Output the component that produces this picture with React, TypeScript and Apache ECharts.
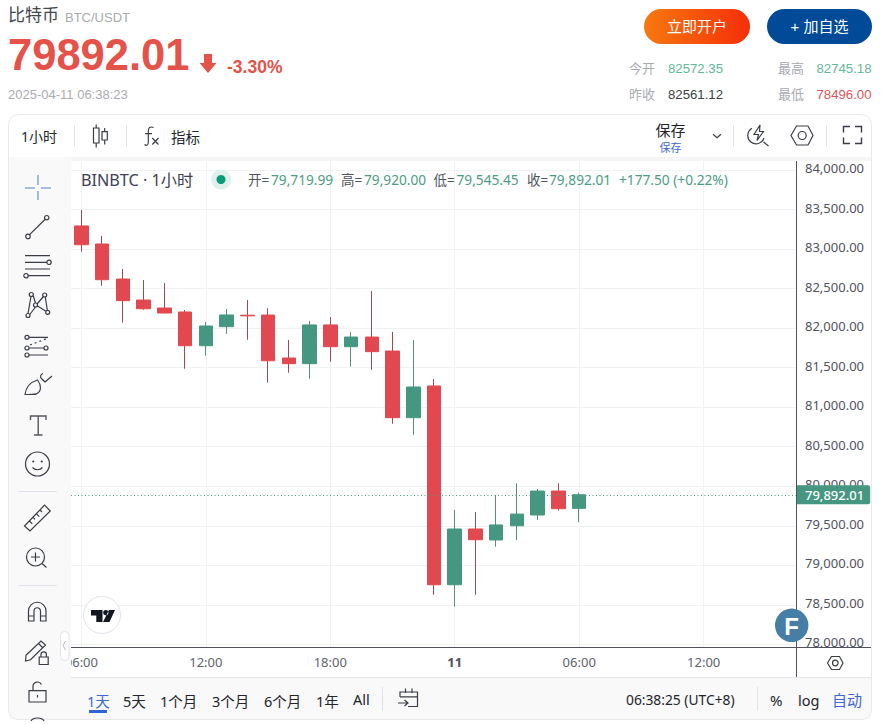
import React, { useEffect, useRef } from "react";
import * as echarts from "echarts";

const categories = [
  "06:00","07:00","08:00","09:00","10:00","11:00","12:00","13:00","14:00","15:00","16:00","17:00",
  "18:00","19:00","20:00","21:00","22:00","23:00","11","01:00","02:00","03:00","04:00","05:00",
  "06:00","07:00","08:00","09:00","10:00","11:00","12:00","13:00","14:00","15:00","16:00",
];
const opens = [83292,83064,82621,82355,82254,82204,81777,82018,82163,82165,81622,81550,82040,81765,81887,81710,80867,81268,78754,79459,79320,79500,79636,79939,79719.99];
const closes = [83055,82612,82347,82245,82191,81777,82027,82166,82155,81587,81550,82040,81765,81887,81702,80867,81255,78754,79459,79323,79510,79648,79939,79716,79892.01];
const lows = [82966,82536,82068,82233,82191,81486,81651,81929,81853,81310,81436,81360,81575,81512,81474,80790,80652,78627,78476,78627,79235,79319,79572,79692,79545.45];
const highs = [83494,83165,82748,82608,82570,82229,82077,82242,82355,82250,81850,82090,82140,81950,82470,81950,81850,81356,79700,79674,79889,80037,79965,80037,79920];
const priceTicks = [78000,78500,79000,79500,80000,80500,81000,81500,82000,82500,83000,83500,84000];
const lastPrice = 79892.01;
const rangeTabs = ["1天","5天","1个月","3个月","6个月","1年","All"];

const UP = "#459782";
const DOWN = "#e2484f";
const UP_WICK = "#5c8d7b";
const DOWN_WICK = "#9a4b57";
const GRIDC = "#f1f2f4";
const AXISC = "#50535e";
const SEP = "#e0e3eb";
const ICON = "#3a3d47";
const BLUE = "#3f66d6";
const CJK = '"Liberation Sans","Noto Sans CJK SC",sans-serif';
const UI = '"Noto Sans","Noto Sans CJK SC",sans-serif';

const c = (x: number, y: number, r: number) =>
  `M${x - r} ${y}a${r} ${r} 0 1 0 ${2 * r} 0a${r} ${r} 0 1 0 ${-2 * r} 0Z`;

const icons: Record<string, string> = {
  cross: "M25 188H35M41 188H51M38 175V185M38 191V200",
  trend: `M29.6 234.6L45.2 219.2${c(28, 236.4, 2.2)}${c(46.7, 217.7, 2.2)}`,
  lines: `M25 255.7H50M25 262.3H46.7${c(49, 262.3, 2.2)}M25 269H50M28.3 275.7H50${c(26, 275.7, 2.2)}`,
  fan: `M28 313.5L31 296.5M33 295L35.5 303M35.5 307L29.8 314.5M37 304L43.5 296.5M45.3 297L47.3 310M37.5 306L45.5 311${c(28, 315.5, 2)}${c(31.3, 294.5, 2)}${c(44.7, 295, 2)}${c(47.7, 312.3, 2)}${c(35.5, 305, 2)}`,
  fib: `M29 337.3H48${c(27, 337.3, 2)}M29.2 348H44${c(27, 348, 2)}${c(46, 348, 2)}M29.2 355H48${c(27, 355, 2)}`,
  fibDot: "M30 345L47 338.5",
  brush: "M25 394.5C26 386 31 382 37.5 380C41.5 385 41.5 391 37 393.5C33 394.5 29 394.5 25 394.5ZM24.5 394.5H36.5M45 382L52 376M45 382L42 379C39.5 377.5 40.5 374 43 373.5",
  textT: "M30.5 420V416H46V420M38.2 416V435M34 435H42.5",
  smile: `${c(37.5, 464, 12)}${c(33.3, 461.5, 0.5)}${c(41.7, 461.5, 0.5)}M32.5 467.5C35 470.5 40 470.5 42.5 467.5`,
  ruler: "M24.5 526L44.5 505.2L50.3 511L30 531ZM29.5 521L32.3 523.8M33 517.3L35 519.3M36.5 513.8L39.3 516.6M40 510L42 512",
  zoomIn: `${c(35.5, 557, 9)}M31 557H40M35.5 552.5V561.5M42.2 563.7L46.5 567.5`,
  magnet: "M28.5 621V611A8.75 8.75 0 0 1 46 611V621H40.5V611A3.2 3.2 0 0 0 34 611V621ZM28.5 616H34M40.5 616H46",
  pencil: `M26 655.3L41 641L45.5 645L30.5 659.8L25.5 661ZM38.5 643.5L43 648M39.2 657H48.2V664.5H39.2ZM41 657V654.5A2.7 2.7 0 0 1 46.4 654.5V657`,
  unlock: `M29 690.7H46V702H29ZM33 690.7V686.5A4.5 4.5 0 0 1 41.5 684.5M37.5 695V697.5`,
  partial: "M31 721C33 717 42 717 44 721",
  candle: "M93.5 128H99V143H93.5ZM96.2 124.5V128M96.2 143V147.5M102 131.7H107.3V140H102ZM104.7 128V131.7M104.7 140V144.5",
  fx: "M153.5 127.5C149.5 126 148.3 128 148.3 131.5V141.5C148.3 145.5 146.5 146 144.5 144.5M145 133.7H152M152.3 138L158.5 144.5M158.5 138L152.3 144.5",
  chevron: "M713 134.3L717 137.8L721 134.3",
  bolt: `M752 128.3A8.3 8.3 0 1 0 764 138M760 125L754 134.5H758.5L757 140.5L763.5 131.5H759.5ZM763.5 142L768.5 146`,
  hex: `M791 135.5L796.5 126H808L813 135.5L808 145H796.5Z${c(802.2, 135.5, 4)}`,
  expand: "M843.5 132.5V126.5H850M855 126.5H861.5V132.5M861.5 137.5V143.5H855M850 143.5H843.5V137.5",
  hexAxis: `M827.5 663L831.5 656.5H839.5L843 663L839.5 669.5H831.5Z${c(835.3, 663, 2.8)}`,
  collapse: "M65.5 641L63 645.5L65.5 650",
  calendar: "M400 697V692H417.5V706.5H408M400 696.8H417.5M405.5 688.5V693M412 688.5V693M398 703H407.5M404.5 700L408 703L404.5 706",
  tvLogo: `M91 610H102.5V622H96.3V615.5H91Z${c(105.8, 612.6, 2.6)}M109 610H115L109.5 622H103Z`,
};
Object.entries(icons).forEach(([name, d]) => {
  echarts.graphic.registerShape("ic_" + name, echarts.graphic.extendPath(d, {}));
});

const Z = 50;
const txt = (text: string, x: number, y: number, size: number, fill: string, extra: any = {}) => ({
  type: "text",
  z: Z,
  silent: true,
  style: {
    text, x, y, fill,
    fontSize: size,
    fontFamily: extra.family || UI,
    fontWeight: extra.weight || "normal",
    textAlign: extra.align || "left",
    textVerticalAlign: "middle",
  },
});
const icon = (name: string, stroke = ICON, lw = 1.2, fill = "none", extra: any = {}) => ({
  type: "ic_" + name,
  z: Z,
  silent: true,
  style: { stroke, fill, lineWidth: lw, ...extra },
});
const rect = (x: number, y: number, width: number, height: number, fill: any, r: any = 0, extra: any = {}) => ({
  type: "rect",
  z: Z,
  silent: true,
  shape: { x, y, width, height, r },
  style: { fill, ...extra },
});
const seg = (x1: number, y1: number, x2: number, y2: number, stroke: string, lineWidth = 1) => ({
  type: "line",
  z: Z,
  silent: true,
  shape: { x1, y1, x2, y2 },
  style: { stroke, lineWidth },
});

function buildGraphics(): any[] {
  const g: any[] = [];
  const RED = "#e5524a";
  const GREY = "#a9abb1";
  // header
  g.push(txt("比特币", 8, 15.5, 17, "#43464d", { family: CJK }));
  g.push(txt("BTC/USDT", 65, 17, 13, GREY, { family: CJK }));
  g.push(txt("79892.01", 8, 55, 43.5, RED, { family: CJK, weight: "bold" }));
  g.push({
    type: "polygon", z: Z, silent: true,
    shape: { points: [[204, 54], [212, 54], [212, 63], [216.5, 63], [208, 73], [199.5, 63], [204, 63]] },
    style: { fill: RED },
  });
  g.push(txt("-3.30%", 227, 66.5, 17.5, RED, { family: CJK, weight: "bold" }));
  g.push(txt("2025-04-11 06:38:23", 8, 94, 13, GREY, { family: CJK }));
  g.push(rect(644, 9, 106, 35, new echarts.graphic.LinearGradient(0, 0, 1, 0, [
    { offset: 0, color: "#f7790f" }, { offset: 1, color: "#f52e08" },
  ]), 17.5));
  g.push(txt("立即开户", 697, 26.5, 15, "#fff", { family: CJK, align: "center" }));
  g.push(rect(767, 9, 105, 35, "#004a98", 17.5));
  g.push(txt("+ 加自选", 819.5, 26.5, 15, "#fff", { family: CJK, align: "center" }));
  g.push(txt("今开", 629, 68, 13, GREY, { family: CJK }));
  g.push(txt("82572.35", 668, 68, 13.2, "#62b897", { family: CJK }));
  g.push(txt("最高", 778, 68, 13, GREY, { family: CJK }));
  g.push(txt("82745.18", 816.5, 68, 13.2, "#62b897", { family: CJK }));
  g.push(txt("昨收", 629, 94, 13, GREY, { family: CJK }));
  g.push(txt("82561.12", 668, 94, 13.2, "#3c3f46", { family: CJK }));
  g.push(txt("最低", 778, 94, 13, GREY, { family: CJK }));
  g.push(txt("78496.00", 816.5, 94, 13.2, "#d9575a", { family: CJK }));

  // panels around the plot
  g.push(rect(9, 157, 862, 4, "#f6f6f7"));
  g.push(rect(9, 157, 62, 521, "#f9f9fa"));
  g.push(rect(9, 678, 862, 41, "#f9f9fa"));
  g.push(rect(797.5, 648, 73.5, 29, "#ffffff"));
  g.push(seg(71, 677.5, 871, 677.5, "#e6e7ea"));
  g.push({
    type: "rect", z: Z, silent: true,
    shape: { x: 8.5, y: 114.5, width: 863, height: 605, r: 10 },
    style: { fill: "none", stroke: "#e8e9ec", lineWidth: 1 },
  });
  g.push(seg(71, 647.5, 871, 647.5, AXISC));
  g.push(seg(796.5, 161, 796.5, 677, AXISC));

  // top toolbar
  g.push(txt("1小时", 21, 136.5, 14, "#23252b"));
  g.push(seg(74.5, 125, 74.5, 147, SEP));
  g.push(icon("candle"));
  g.push(seg(126.5, 125, 126.5, 147, SEP));
  g.push(icon("fx"));
  g.push(txt("指标", 171, 136.5, 14.5, "#23252b"));
  g.push(txt("保存", 670.5, 130, 15, "#23252b", { align: "center" }));
  g.push(txt("保存", 670.5, 147, 11, BLUE, { align: "center" }));
  g.push(icon("chevron"));
  g.push(seg(733.5, 125, 733.5, 147, SEP));
  g.push(icon("bolt"));
  g.push(icon("hex"));
  g.push(seg(826.5, 125, 826.5, 147, SEP));
  g.push(icon("expand", ICON, 1.4));

  // left toolbar
  g.push(icon("cross", "#8ea9dd", 1.6));
  g.push(icon("trend"));
  g.push(icon("lines"));
  g.push(icon("fan"));
  g.push(icon("fib"));
  g.push(icon("fibDot", ICON, 1.2, "none", { lineDash: [2, 3] }));
  g.push(icon("brush"));
  g.push(icon("textT", "#55585f", 1.4));
  g.push(icon("smile"));
  g.push(seg(18, 491.5, 57, 491.5, SEP));
  g.push(icon("ruler"));
  g.push(icon("zoomIn"));
  g.push(seg(18, 585.5, 57, 585.5, SEP));
  g.push(icon("magnet"));
  g.push(icon("pencil"));
  g.push(icon("unlock"));
  g.push(icon("partial"));
  g.push({
    type: "rect", z: Z, silent: true,
    shape: { x: 60.5, y: 631.5, width: 8.5, height: 29, r: 4 },
    style: { fill: "#fff", stroke: SEP, lineWidth: 1 },
  });
  g.push(icon("collapse", "#b8bac0", 1));

  // legend line
  g.push(txt("BINBTC · 1小时", 81, 179.5, 16.2, "#3d4254"));
  g.push({ type: "circle", z: Z, silent: true, shape: { cx: 221, cy: 179.5, r: 10 }, style: { fill: "#e0f1ed" } });
  g.push({ type: "circle", z: Z, silent: true, shape: { cx: 221, cy: 179.5, r: 4.5 }, style: { fill: "#0c9b78" } });
  const LV = "#4c9c83";
  const LK = "#50535e";
  [["开=", 248], ["高=", 341], ["低=", 433.5], ["收=", 527]].forEach(([t, x]) =>
    g.push(txt(t as string, x as number, 179.5, 13.5, LK)));
  [["79,719.99", 271], ["79,920.00", 364], ["79,545.45", 456.5], ["79,892.01", 549], ["+177.50 (+0.22%)", 619]].forEach(([t, x]) =>
    g.push(txt(t as string, x as number, 179.5, 13.7, LV)));

  // watermarks
  g.push({ type: "circle", z: Z, silent: true, shape: { cx: 102, cy: 615, r: 18.5 }, style: { fill: "#fff", stroke: "#e0e3eb", lineWidth: 1 } });
  g.push(icon("tvLogo", "none", 0, "#131722"));
  g.push({ type: "circle", z: Z, silent: true, shape: { cx: 791.7, cy: 625.3, r: 16.7 }, style: { fill: "#467ea6" } });
  g.push(txt("F", 791.7, 626, 24, "#fff", { family: CJK, weight: "bold", align: "center" }));
  g.push(icon("hexAxis"));

  // bottom bar
  const tabX = [87, 123, 160, 212, 264, 316, 353];
  rangeTabs.forEach((t, i) =>
    g.push(txt(t, tabX[i], i === 6 ? 699 : 700.5, 14.5, i === 0 ? BLUE : "#23252b")));
  g.push(rect(89, 710, 18, 3, "#2f63d8"));
  g.push(seg(382.5, 687, 382.5, 711, SEP));
  g.push(icon("calendar"));
  g.push(txt("06:38:25 (UTC+8)", 626, 699.5, 13.8, "#23252b"));
  g.push(seg(757.5, 687, 757.5, 711, SEP));
  g.push(txt("%", 770, 699.5, 15, "#23252b"));
  g.push(txt("log", 798, 699.5, 14.5, "#23252b"));
  g.push(txt("自动", 832, 699.5, 15, BLUE));
  return g;
}

export default function App() {
  const ref = useRef<HTMLDivElement>(null);
  useEffect(() => {
    const chart = echarts.init(ref.current!, undefined, { renderer: "svg" });
    const full = opens.map((o, i) => [o, closes[i], lows[i], highs[i]]);
    const body = opens.map((o, i) => [o, closes[i], Math.min(o, closes[i]), Math.max(o, closes[i])]);
    const every6 = (i: number) => i % 6 === 0;
    chart.setOption({
      animation: false,
      backgroundColor: "#ffffff",
      grid: { left: 71, top: 160.5, width: 726, height: 487, containLabel: false },
      xAxis: {
        type: "category",
        data: categories,
        boundaryGap: true,
        axisLine: { show: false },
        axisTick: { show: false },
        axisLabel: {
          interval: (i: number) => every6(i),
          color: "#5f626c",
          fontFamily: UI,
          fontSize: 13,
          margin: 8,
          formatter: (v: string) => (v === "11" ? "{b|11}" : v),
          rich: { b: { fontWeight: "bold", fontFamily: UI, fontSize: 13, color: "#50535e" } },
        },
        splitLine: {
          show: true,
          alignWithLabel: true,
          interval: (i: number) => every6(i),
          lineStyle: { color: GRIDC, width: 1 },
        },
      },
      yAxis: {
        type: "value",
        position: "right",
        scale: true,
        min: 77960,
        max: 84120,
        axisLine: { show: false },
        axisTick: { show: false, customValues: priceTicks },
        axisLabel: {
          customValues: priceTicks,
          color: "#50535e",
          fontFamily: UI,
          fontSize: 13,
          margin: 8,
          formatter: (v: number) =>
            "{p|" + v.toLocaleString("en-US", { minimumFractionDigits: 2, maximumFractionDigits: 2 }) + "}",
          rich: { p: { color: "#50535e", fontFamily: UI, fontSize: 13, padding: [0, 0, 4, 0] } },
        },
        splitLine: { show: true, customValues: priceTicks, lineStyle: { color: GRIDC, width: 1 } },
      },
      series: [
        {
          type: "candlestick",
          name: "wick",
          data: full,
          barWidth: 1,
          itemStyle: { color: UP_WICK, color0: DOWN_WICK, borderColor: UP_WICK, borderColor0: DOWN_WICK, borderWidth: 1 },
        },
        {
          type: "candlestick",
          name: "BINBTC",
          data: body,
          barWidth: 14,
          itemStyle: { color: UP, color0: DOWN, borderColor: UP, borderColor0: DOWN, borderWidth: 1 },
          markLine: {
            silent: true,
            symbol: "none",
            animation: false,
            lineStyle: { color: "#4c9c83", type: [1, 2.5], width: 1 },
            label: {
              show: true,
              position: "end",
              distance: 0,
              formatter: () =>
                lastPrice.toLocaleString("en-US", { minimumFractionDigits: 2, maximumFractionDigits: 2 }),
              backgroundColor: UP,
              color: "#fff",
              fontFamily: UI,
              fontSize: 13,
              fontWeight: 500,
              padding: [3, 6, 3, 8],
              borderRadius: [0, 2, 2, 0],
            },
            data: [{ yAxis: lastPrice }],
          },
        },
      ],
      graphic: { elements: buildGraphics() },
    });
    return () => chart.dispose();
  }, []);
  return <div ref={ref} style={{ position: "fixed", left: 0, top: 0, width: 881, height: 725 }} />;
}
